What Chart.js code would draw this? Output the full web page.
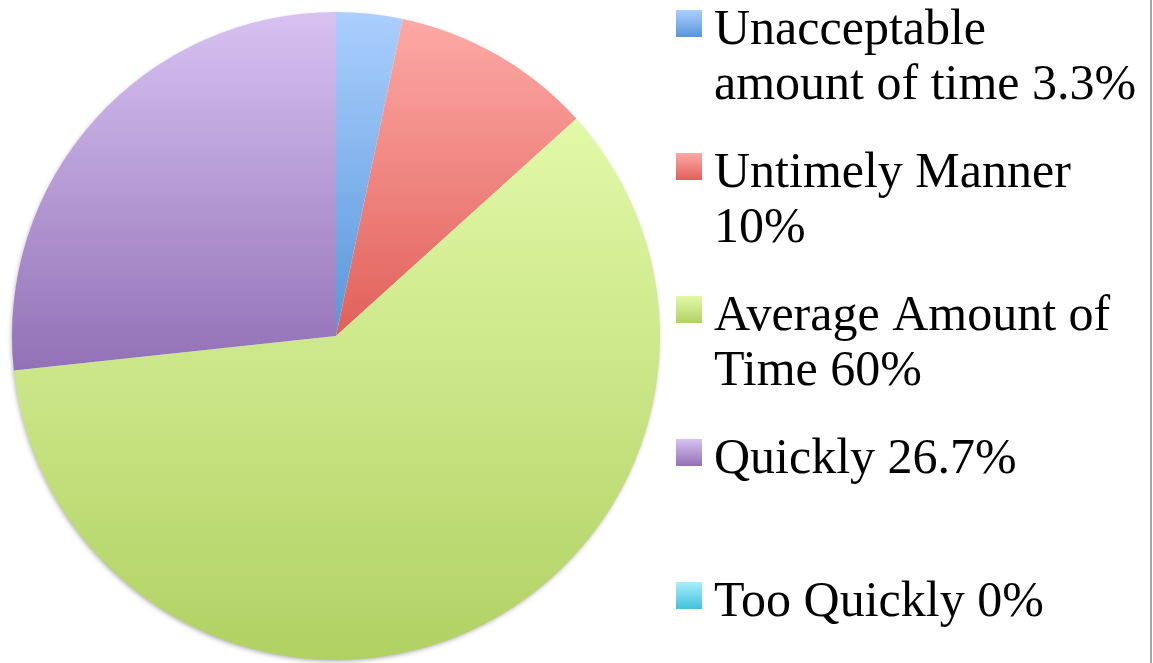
<!DOCTYPE html>
<html>
<head>
<meta charset="utf-8">
<script src="https://cdn.jsdelivr.net/npm/chart.js@4.4.0/dist/chart.umd.min.js"></script>
<style>
  html, body { margin: 0; padding: 0; background: #fff; }
  #wrap { width: 1153px; height: 663px; position: relative; }
</style>
</head>
<body>
<div id="wrap"><canvas id="myChart" width="1153" height="663"></canvas></div>
<script>
var labels = ['Unacceptable amount of time', 'Untimely Manner', 'Average Amount of Time', 'Quickly', 'Too Quickly'];
var values = [3.3, 10, 60, 26.7, 0];
// gradient stops (top, bottom) for each slice
var topColors = ['#abcffe', '#fda9a5', '#e2f9a8', '#d7c2f2', '#a8effa'];
var bottomColors = ['#5896d9', '#e1605a', '#b1d163', '#9271b6', '#41c2dd'];

var legendFont = '50px "Liberation Serif", "DejaVu Serif", serif';

// bbox (top / bottom y) of one slice, so the gradient runs over that slice only
function sliceRange(chart, i) {
  var area = chart.chartArea;
  var cx = (area.left + area.right) / 2, cy = (area.top + area.bottom) / 2;
  var r = Math.min(area.right - area.left, area.bottom - area.top) / 2;
  var total = values.reduce(function(a, b){ return a + b; }, 0);
  var before = 0;
  for (var k = 0; k < i; k++) before += values[k];
  var a0 = -Math.PI / 2 + before / total * Math.PI * 2;
  var a1 = a0 + values[i] / total * Math.PI * 2;
  var ys = [cy, cy + r * Math.sin(a0), cy + r * Math.sin(a1)];
  [-Math.PI / 2, Math.PI / 2, Math.PI * 1.5].forEach(function(a){
    if (a >= a0 && a <= a1) ys.push(cy + r * Math.sin(a));
  });
  return [Math.min.apply(null, ys), Math.max.apply(null, ys)];
}

function sliceFill(c) {
  var chart = c.chart;
  if (!chart.chartArea) return topColors[c.dataIndex];
  var rg = sliceRange(chart, c.dataIndex);
  var g = chart.ctx.createLinearGradient(0, rg[0], 0, rg[1] + 0.01);
  g.addColorStop(0, topColors[c.dataIndex]);
  g.addColorStop(1, bottomColors[c.dataIndex]);
  return g;
}

// soft shadow under the whole pie
var pieShadow = {
  id: 'pieShadow',
  beforeDatasetsDraw: function(chart) {
    var arc = chart.getDatasetMeta(0).data[0];
    if (!arc) return;
    var ctx = chart.ctx;
    ctx.save();
    ctx.shadowColor = 'rgba(0,0,0,0.35)';
    ctx.shadowBlur = 5;
    ctx.shadowOffsetX = -1;
    ctx.shadowOffsetY = 2;
    ctx.fillStyle = '#ffffff';
    ctx.beginPath();
    ctx.arc(arc.x, arc.y, arc.outerRadius - 1, 0, Math.PI * 2);
    ctx.fill();
    ctx.restore();
  }
};

function wrapText(ctx, text, maxW) {
  var words = text.split(' ');
  var lines = [], cur = '';
  words.forEach(function(w){
    var test = cur ? cur + ' ' + w : w;
    if (cur && ctx.measureText(test).width > maxW) {
      lines.push(cur);
      cur = w;
    } else {
      cur = test;
    }
  });
  if (cur) lines.push(cur);
  return lines;
}

var sideLegend = {
  id: 'sideLegend',
  afterDraw: function(chart) {
    var ctx = chart.ctx;
    ctx.save();
    ctx.font = legendFont;
    ctx.textBaseline = 'alphabetic';
    ctx.fillStyle = '#000';
    var boxX = 676, boxW = 26, boxH = 27, textX = 714, step = 143, y0 = 10;
    labels.forEach(function(lab, i){
      var y = y0 + i * step;
      var g = ctx.createLinearGradient(0, y, 0, y + boxH);
      g.addColorStop(0, topColors[i]);
      g.addColorStop(1, bottomColors[i]);
      ctx.fillStyle = g;
      ctx.fillRect(boxX, y, boxW, boxH);
      ctx.fillStyle = '#000';
      var lines = wrapText(ctx, lab + ' ' + values[i] + '%', 432);
      lines.forEach(function(line, j){
        ctx.fillText(line, textX, y + 34 + j * 55);
      });
    });
    // thin frame line at the right edge
    ctx.fillStyle = '#a6a6a6';
    ctx.fillRect(1150, 0, 2, 663);
    ctx.restore();
  }
};

var ctx = document.getElementById('myChart');
var myChart = new Chart(ctx, {
  type: 'pie',
  data: {
    labels: labels,
    datasets: [{
      data: values,
      backgroundColor: sliceFill,
      borderWidth: 0
    }]
  },
  options: {
    responsive: false,
    animation: false,
    layout: {
      padding: { left: 12, top: 12, right: 493, bottom: 3 }
    },
    plugins: {
      legend: { display: false },
      tooltip: { enabled: false }
    }
  },
  plugins: [pieShadow, sideLegend]
});
</script>
</body>
</html>
